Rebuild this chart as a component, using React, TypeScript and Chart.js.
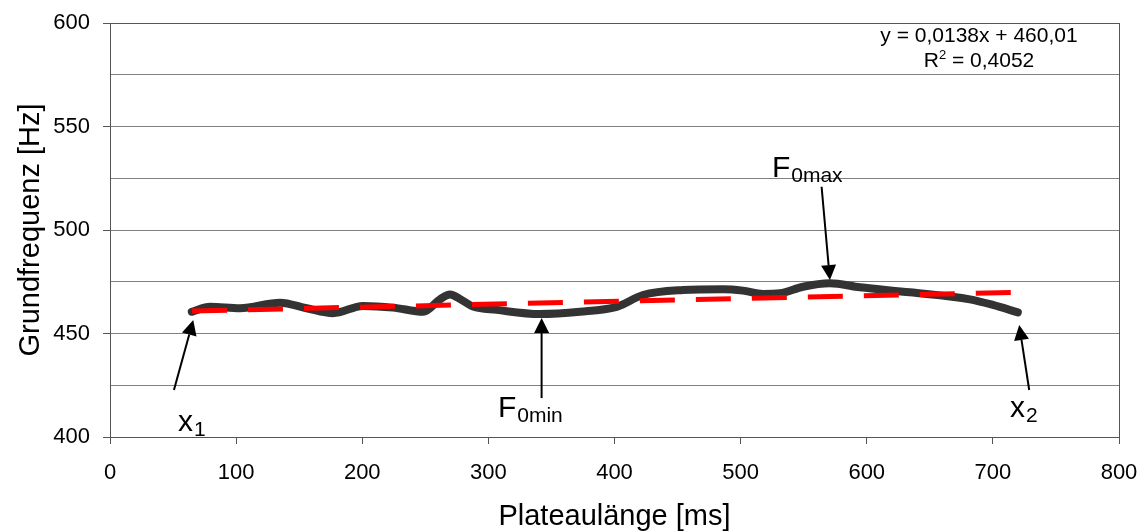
import React, { useEffect, useRef } from 'react';
import { Chart, registerables } from 'chart.js';

Chart.register(...registerables);

const FONT = '"Liberation Sans", Arial, sans-serif';

// Measured curve (Plateaulänge [ms] vs Grundfrequenz [Hz])
const plateauMs = [64.8, 79.3, 103.1, 134.8, 155.9, 176.8, 200.6, 224.4, 248.4, 261.6, 269.5, 278.8, 287.8, 306.6, 340.7, 372.6, 401.7, 422.6, 454.3, 486.0, 501.8, 517.7, 531.2, 549.4, 570.8, 594.6, 634.2, 681.8, 700.0, 719.8];
const f0Hz = [460.5, 462.9, 462.2, 464.9, 462.2, 459.8, 463.3, 462.5, 460.5, 466.5, 468.9, 466.2, 463.0, 461.4, 459.4, 460.5, 462.9, 468.6, 471.0, 471.4, 470.7, 469.1, 469.4, 472.6, 474.3, 472.3, 469.9, 466.5, 463.8, 460.2];

// Linear trend line endpoints
const trendMs = [65, 720];
const trendHz = [460.9, 469.9];

// Axis ticks
const xMin = 0, xMax = 800, xStep = 100;
const yMin = 400, yMax = 600, yStep = 25, yLabelStep = 50;

// Annotations
const annMain = ['x', 'F', 'F', 'x'];
const annSub = ['1', '0min', '0max', '2'];
const annTipMs = [66, 342.2, 570.8, 720.9];
const annTipHz = [456.5, 457.5, 475.8, 454.1];
const annTailMs = [50.7, 342.2, 564.2, 728.8];
const annTailHz = [422.7, 418.8, 520.9, 422.7];
const annTextMs = [53.9, 307.6, 524.8, 713.5];
const annTextHz = [402.9, 409.7, 525.6, 409.7];

const eqLine1 = 'y = 0,0138x + 460,01';
const eqR = 'R';
const eqSup = '2';
const eqRest = ' = 0,4052';

const overlayPlugin = {
  id: 'overlay',
  beforeDatasetsDraw(chart: any) {
    const { ctx, chartArea } = chart;
    ctx.save();
    ctx.strokeStyle = '#555';
    ctx.lineWidth = 1;
    ctx.strokeRect(chartArea.left + 0.5, chartArea.top + 0.5, chartArea.right - chartArea.left, chartArea.bottom - chartArea.top);
    ctx.restore();
  },
  afterDatasetsDraw(chart: any) {
    const { ctx, chartArea } = chart;
    const xs = chart.scales.x;
    const ys = chart.scales.y;
    ctx.save();
    for (let i = 0; i < annMain.length; i++) {
      const tx = xs.getPixelForValue(annTipMs[i]);
      const ty = ys.getPixelForValue(annTipHz[i]);
      const sx = xs.getPixelForValue(annTailMs[i]);
      const sy = ys.getPixelForValue(annTailHz[i]);
      const ang = Math.atan2(ty - sy, tx - sx);
      const L = 15, W = 7.5;
      const c = Math.cos(ang), s = Math.sin(ang);
      const bx = tx - L * c, by = ty - L * s;
      ctx.strokeStyle = '#000';
      ctx.lineWidth = 2;
      ctx.beginPath();
      ctx.moveTo(sx, sy);
      ctx.lineTo(bx, by);
      ctx.stroke();
      ctx.fillStyle = '#000';
      ctx.beginPath();
      ctx.moveTo(tx, ty);
      ctx.lineTo(bx - W * s, by + W * c);
      ctx.lineTo(bx + W * s, by - W * c);
      ctx.closePath();
      ctx.fill();
      const lx = xs.getPixelForValue(annTextMs[i]);
      const ly = ys.getPixelForValue(annTextHz[i]);
      ctx.textBaseline = 'alphabetic';
      ctx.textAlign = 'left';
      ctx.font = '30px ' + FONT;
      ctx.fillText(annMain[i], lx, ly);
      const w = ctx.measureText(annMain[i]).width;
      ctx.font = '21px ' + FONT;
      ctx.fillText(annSub[i], lx + w + 1, ly + 5);
    }
    const cx = chartArea.right - 140;
    ctx.fillStyle = '#000';
    ctx.textBaseline = 'alphabetic';
    ctx.font = '21px ' + FONT;
    ctx.textAlign = 'center';
    ctx.fillText(eqLine1, cx, chartArea.top + 19);
    ctx.textAlign = 'left';
    const wR = ctx.measureText(eqR).width;
    const wRest = ctx.measureText(eqRest).width;
    ctx.font = '13px ' + FONT;
    const wSup = ctx.measureText(eqSup).width;
    const total = wR + wSup + wRest;
    const x0 = cx - total / 2;
    const by2 = chartArea.top + 44;
    ctx.font = '21px ' + FONT;
    ctx.fillText(eqR, x0, by2);
    ctx.font = '13px ' + FONT;
    ctx.fillText(eqSup, x0 + wR, by2 - 8);
    ctx.font = '21px ' + FONT;
    ctx.fillText(eqRest, x0 + wR + wSup, by2);
    ctx.restore();
  },
};

export default function App() {
  const canvasRef = useRef<HTMLCanvasElement | null>(null);

  useEffect(() => {
    if (!canvasRef.current) return;
    const curve = plateauMs.map((x, i) => ({ x, y: f0Hz[i] }));
    const trend = trendMs.map((x, i) => ({ x, y: trendHz[i] }));
    const chart = new Chart(canvasRef.current, {
      type: 'line',
      data: {
        datasets: [
          {
            label: 'Trend',
            data: trend,
            borderColor: '#ff0000',
            borderWidth: 5,
            borderDash: [35, 21],
            pointRadius: 0,
            fill: false,
          },
          {
            label: 'F0',
            data: curve,
            borderColor: '#333333',
            borderWidth: 8,
            borderCapStyle: 'round',
            borderJoinStyle: 'round',
            cubicInterpolationMode: 'monotone',
            pointRadius: 0,
            fill: false,
          },
        ],
      },
      options: {
        animation: false,
        responsive: false,
        devicePixelRatio: 1,
        layout: { padding: { top: 23, right: 26, left: 0, bottom: 0 } },
        plugins: { legend: { display: false }, tooltip: { enabled: false } },
        scales: {
          x: {
            type: 'linear',
            min: xMin,
            max: xMax,
            ticks: { stepSize: xStep, padding: 16, color: '#000', font: { size: 22, family: FONT }, maxRotation: 0 },
            grid: { drawOnChartArea: false, tickLength: 7, tickColor: '#555' },
            border: { display: true, color: '#555', width: 1 },
            title: {
              display: true,
              text: 'Plateaulänge [ms]',
              color: '#000',
              font: { size: 29, family: FONT, lineHeight: 1.0 },
              padding: { top: 0, bottom: 0 },
            },
            afterFit: (s: any) => { s.height = 94; s.paddingLeft = 0; s.paddingRight = 0; },
          },
          y: {
            type: 'linear',
            min: yMin,
            max: yMax,
            ticks: {
              stepSize: yStep,
              padding: 13,
              color: '#000',
              font: { size: 22, family: FONT },
              callback: (v: any) => (Number(v) % yLabelStep === 0 ? String(v) : ''),
            },
            grid: {
              color: '#808080',
              lineWidth: 1,
              tickLength: 7,
              tickColor: (c: any) => (c.tick && c.tick.value % yLabelStep === 0 ? '#555' : 'rgba(0,0,0,0)'),
            },
            border: { display: true, color: '#555', width: 1 },
            title: {
              display: true,
              text: 'Grundfrequenz [Hz]',
              color: '#000',
              font: { size: 29, family: FONT, lineHeight: 1.2 },
              padding: { top: 14, bottom: 0 },
            },
            afterFit: (s: any) => { s.width = 110; s.paddingTop = 0; s.paddingBottom = 0; },
          },
        },
      },
      plugins: [overlayPlugin],
    } as any);
    return () => chart.destroy();
  }, []);

  return (
    <div style={{ position: 'absolute', left: 0, top: 0, width: 1145, height: 531, background: '#fff' }}>
      <canvas ref={canvasRef} width={1145} height={531} style={{ display: 'block' }} />
    </div>
  );
}
